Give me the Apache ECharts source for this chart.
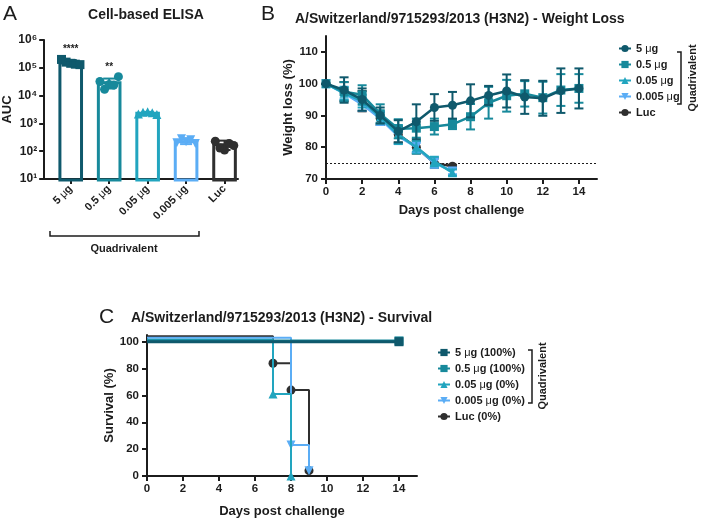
<!DOCTYPE html>
<html><head><meta charset="utf-8">
<script src="https://cdn.jsdelivr.net/npm/echarts@6/dist/echarts.min.js"></script>
<style>html,body{margin:0;padding:0;background:#fff}#c{width:701px;height:519px}</style>
</head><body><div id="c"></div>
<script>
// ---------- shared ----------
const groupNames = ['5 μg', '0.5 μg', '0.05 μg', '0.005 μg', 'Luc'];
const survNames = ['5 μg (100%)', '0.5 μg (100%)', '0.05 μg (0%)', '0.005 μg (0%)', 'Luc (0%)'];
const colors = ['#0f596c', '#17899b', '#22a5bf', '#5badf5', '#2f2f2f'];

// ---------- Panel A: Cell-based ELISA (AUC) ----------
const aucMean = [1.5e5, 2.9e4, 2.3e3, 2.2e2, 1.7e2];
const aucLow  = [1.25e5, 1.8e4, 2.1e3, 1.8e2, 1.1e2];
const aucHigh = [1.9e5, 4.1e4, 2.6e3, 2.9e2, 2.4e2];
const aucPts5    = [2.0e5, 1.6e5, 1.45e5, 1.35e5, 1.3e5];
const aucPts05   = [3.2e4, 1.7e4, 2.5e4, 2.4e4, 4.8e4];
const aucPts005  = [2.2e3, 2.5e3, 2.6e3, 2.4e3, 2.1e3];
const aucPts0005 = [2.0e2, 2.8e2, 2.2e2, 2.6e2, 1.9e2];
const aucPtsLuc  = [2.3e2, 1.3e2, 1.1e2, 1.9e2, 1.6e2];
const aucStars = ['****', '**', '', '', ''];
const aucTickExp = {10: '10¹', 100: '10²', 1000: '10³', 10000: '10⁴', 100000: '10⁵', 1000000: '10⁶'};

// ---------- Panel B: weight loss ----------
const daysLong  = [0, 1, 2, 3, 4, 5, 6, 7, 8, 9, 10, 11, 12, 13, 14];
const daysShort = [0, 1, 2, 3, 4, 5, 6, 7];
const wt5     = [100, 98, 95, 90, 85, 88, 92.5, 93.2, 94.6, 96.3, 97.7, 95.8, 95.4, 97.8, 98.5];
const wt5Sd   = [0, 4, 3.5, 2.5, 3.5, 5.5, 4.2, 4.2, 5.2, 3, 5.2, 5.3, 5.5, 7, 6.3];
const wt05    = [100, 97.5, 96.5, 90.5, 85.8, 86, 86.5, 87.2, 89.6, 94, 96.2, 96.8, 95.6, 98, 98.5];
const wt05Sd  = [0, 3, 3, 3, 3, 3, 2.5, 1.5, 4, 5, 5, 4, 5, 5, 4.5];
const wt005   = [100, 97, 94.5, 89.5, 84, 80, 75.5, 72];
const wt005Sd = [0, 2, 2, 2, 3, 2, 1.5, 1];
const wt0005  = [100, 97, 93.5, 89, 83.5, 80, 75, 72.5];
const wt0005Sd= [0, 2, 2, 2, 2.5, 1.5, 1.5, 1];
const wtLuc   = [100, 97.5, 94.5, 89, 84, 80, 75, 74];
const wtLucSd = [0, 3, 3.2, 2, 2.5, 2, 1.5, 0.5];
const wtThreshold = 75;
const bYTicks = [70, 80, 90, 100, 110];
const bXTicks = [0, 2, 4, 6, 8, 10, 12, 14];

// ---------- Panel C: survival ----------
const survDays5 = [0, 14],          surv5 = [100, 100];
const survDays05 = [0, 14],         surv05 = [100.6, 100.6];
const survDays005 = [0, 7, 8],      surv005 = [101.5, 61, 0];
const survDays0005 = [0, 8, 9],     surv0005 = [103, 23, 4];
const survDaysLuc = [0, 7, 8, 9],   survLuc = [104, 84, 64, 4];
const cYTicks = [0, 20, 40, 60, 80, 100];
const cXTicks = [0, 2, 4, 6, 8, 10, 12, 14];

// ---------- build ----------
const FONT = '"Liberation Sans", Arial, Helvetica, sans-serif';
const INK = '#1c1c1c';
const muRich = {m: {fontWeight: 'normal', color: INK, fontFamily: FONT}};
const muFmt = s => s.replace('μ', '{m|μ}');
const axisBase = () => ({
  axisLine: {show: true, onZero: false, lineStyle: {color: INK, width: 2}},
  axisTick: {show: true, length: 5, lineStyle: {color: INK, width: 2}},
  axisLabel: {color: INK, fontWeight: 'bold', fontSize: 11.5, fontFamily: FONT},
  splitLine: {show: false},
  nameTextStyle: {color: INK, fontWeight: 'bold', fontSize: 13, fontFamily: FONT}
});
function merge(a, b) {
  for (const k in b) {
    if (b[k] && typeof b[k] === 'object' && !Array.isArray(b[k]) && a[k] && typeof a[k] === 'object') merge(a[k], b[k]);
    else a[k] = b[k];
  }
  return a;
}

const aucPts = [aucPts5, aucPts05, aucPts005, aucPts0005, aucPtsLuc];
const aSymbols = ['rect', 'circle', 'triangle', 'triangle', 'circle'];
const aRot = [0, 0, 0, 180, 0];
const jitter = [-0.24, -0.12, 0, 0.12, 0.24];
const halfBar = 0.32;

const series = [];
series.push({
  type: 'custom', name: 'A bars', xAxisIndex: 0, yAxisIndex: 0, silent: true, z: 2,
  data: aucMean.map((v, i) => [i, v]),
  renderItem: (params, api) => {
    const i = api.value(0), v = api.value(1);
    const p1 = api.coord([i - halfBar, v]);
    const p2 = api.coord([i + halfBar, 10]);
    return {type: 'rect', shape: {x: p1[0] + 1.5, y: p1[1], width: p2[0] - p1[0] - 3, height: p2[1] - p1[1] + 1},
      style: {fill: 'none', stroke: colors[i], lineWidth: 3}};
  }
});
aucPts.forEach((pts, i) => {
  series.push({
    type: 'scatter', name: 'A pts ' + i, xAxisIndex: 0, yAxisIndex: 0, z: 3,
    symbol: aSymbols[i], symbolRotate: aRot[i], symbolSize: 9,
    itemStyle: {color: colors[i], opacity: 1},
    data: pts.map((v, k) => [i + jitter[k], v])
  });
});
series.push({
  type: 'custom', name: 'A err', xAxisIndex: 0, yAxisIndex: 0, silent: true, z: 4,
  data: aucMean.map((v, i) => [i, aucLow[i], aucHigh[i], v]),
  renderItem: (params, api) => {
    const i = api.value(0);
    const lo = api.coord([i, api.value(1)]), hi = api.coord([i, api.value(2)]);
    const w = 6, st = {stroke: colors[i], lineWidth: 2};
    const children = [
      {type: 'line', shape: {x1: lo[0], y1: lo[1], x2: hi[0], y2: hi[1]}, style: st},
      {type: 'line', shape: {x1: lo[0] - w, y1: lo[1], x2: lo[0] + w, y2: lo[1]}, style: st},
      {type: 'line', shape: {x1: hi[0] - w, y1: hi[1], x2: hi[0] + w, y2: hi[1]}, style: st}
    ];
    if (aucStars[i]) {
      children.push({type: 'text', style: {text: aucStars[i], x: hi[0], y: hi[1] - 11, align: 'center', verticalAlign: 'middle',
        fill: INK, font: 'bold 10px ' + FONT}});
    }
    return {type: 'group', children};
  }
});

// Panel B
const bMeans = [wt5, wt05, wt005, wt0005, wtLuc];
const bSds = [wt5Sd, wt05Sd, wt005Sd, wt0005Sd, wtLucSd];
const bDays = [daysLong, daysLong, daysShort, daysShort, daysShort];
const bSym = ['circle', 'rect', 'triangle', 'triangle', 'circle'];
const bRot = [0, 0, 0, 180, 0];
const bZ = [14, 13, 12, 11, 10];
const bOrder = [4, 3, 2, 1, 0];
bOrder.forEach(i => {
  series.push({
    type: 'custom', name: 'B err ' + i, xAxisIndex: 1, yAxisIndex: 1, silent: true, z: bZ[i],
    data: bDays[i].map((d, k) => [d, bMeans[i][k], bSds[i][k]]),
    renderItem: (params, api) => {
      const d = api.value(0), m = api.value(1), s = api.value(2);
      if (!s) return null;
      const lo = api.coord([d, m - s]), hi = api.coord([d, m + s]);
      const w = 4.5, st = {stroke: colors[i], lineWidth: 2};
      return {type: 'group', children: [
        {type: 'line', shape: {x1: lo[0], y1: lo[1], x2: hi[0], y2: hi[1]}, style: st},
        {type: 'line', shape: {x1: lo[0] - w, y1: lo[1], x2: lo[0] + w, y2: lo[1]}, style: st},
        {type: 'line', shape: {x1: hi[0] - w, y1: hi[1], x2: hi[0] + w, y2: hi[1]}, style: st}
      ]};
    }
  });
  const s = {
    type: 'line', name: groupNames[i], xAxisIndex: 1, yAxisIndex: 1, z: bZ[i],
    symbol: bSym[i], symbolRotate: bRot[i], symbolSize: 9, showSymbol: true,
    lineStyle: {color: colors[i], width: 2.5}, itemStyle: {color: colors[i]},
    data: bDays[i].map((d, k) => [d, bMeans[i][k]]), animation: false
  };
  if (i === 4) {
    s.markLine = {silent: true, symbol: 'none', label: {show: false},
      lineStyle: {type: [2, 2], color: INK, width: 1}, data: [{yAxis: wtThreshold}]};
  }
  series.push(s);
});

// Panel C
const cDays = [survDays5, survDays05, survDays005, survDays0005, survDaysLuc];
const cVals = [surv5, surv05, surv005, surv0005, survLuc];
const cSym = ['rect', 'rect', 'triangle', 'triangle', 'circle'];
const cZ = [14, 13, 12, 11, 10];
bOrder.forEach(i => {
  series.push({
    type: 'line', name: survNames[i], xAxisIndex: 2, yAxisIndex: 2, z: cZ[i], step: 'end',
    symbol: cSym[i], symbolRotate: bRot[i], symbolSize: 9,
    lineStyle: {color: colors[i], width: i < 2 ? 3 : 2}, itemStyle: {color: colors[i]},
    data: cDays[i].map((d, k) => k === 0 ? {value: [d, cVals[i][k]], symbol: 'none'} : [d, cVals[i][k]]),
    animation: false
  });
});

const legendText = {color: INK, fontWeight: 'bold', fontSize: 11, fontFamily: FONT, rich: muRich};
const option = {
  animation: false,
  grid: [
    {left: 41, top: 40, width: 197, height: 139},
    {left: 326, top: 36, width: 271, height: 143},
    {left: 147, top: 335, width: 270, height: 144}
  ],
  xAxis: [
    merge(axisBase(), {type: 'value', gridIndex: 0, min: -0.69, max: 4.35,
      axisTick: {customValues: [0, 1, 2, 3, 4]},
      axisLabel: {customValues: [0, 1, 2, 3, 4], rotate: 45, fontSize: 11, margin: 8, rich: {m: {fontWeight: 'normal', fontSize: 11, color: INK, fontFamily: FONT}},
        formatter: v => muFmt(groupNames[Math.round(v)])}}),
    merge(axisBase(), {type: 'value', gridIndex: 1, min: 0, max: 15,
      axisTick: {customValues: bXTicks}, axisLabel: {customValues: bXTicks, margin: 7},
      name: 'Days post challenge', nameLocation: 'middle', nameGap: 25}),
    merge(axisBase(), {type: 'value', gridIndex: 2, min: 0, max: 15,
      axisTick: {customValues: cXTicks}, axisLabel: {customValues: cXTicks, margin: 7},
      name: 'Days post challenge', nameLocation: 'middle', nameGap: 29})
  ],
  yAxis: [
    merge(axisBase(), {type: 'log', logBase: 10, gridIndex: 0, min: 10, max: 1e6,
      axisLabel: {margin: 7, fontSize: 12, formatter: v => aucTickExp[Math.round(v)] || ''},
      name: 'AUC', nameLocation: 'middle', nameGap: 24}),
    merge(axisBase(), {type: 'value', gridIndex: 1, min: 70, max: 115,
      axisTick: {customValues: bYTicks}, axisLabel: {customValues: bYTicks},
      name: 'Weight loss (%)', nameLocation: 'middle', nameGap: 22}),
    merge(axisBase(), {type: 'value', gridIndex: 2, min: 0, max: 105,
      axisTick: {customValues: cYTicks}, axisLabel: {customValues: cYTicks},
      name: 'Survival (%)', nameLocation: 'middle', nameGap: 21})
  ],
  legend: [
    {data: groupNames, orient: 'vertical', left: 613, top: 38, itemGap: 5, itemWidth: 12, itemHeight: 9,
      selectedMode: false, textStyle: legendText, formatter: muFmt},
    {data: survNames, orient: 'vertical', left: 432, top: 342, itemGap: 5, itemWidth: 12, itemHeight: 9,
      selectedMode: false, textStyle: legendText, formatter: muFmt}
  ],
  graphic: [
    {type: 'text', left: 3, top: 4, style: {text: 'A', font: '21px ' + FONT, fill: INK}},
    {type: 'text', x: 146, y: 15, style: {text: 'Cell-based ELISA', font: 'bold 14px ' + FONT, fill: INK, align: 'center', verticalAlign: 'middle'}},
    {type: 'polyline', shape: {points: [[50, 231], [50, 236], [199, 236], [199, 231]]}, style: {stroke: INK, lineWidth: 1.5, fill: 'none'}},
    {type: 'text', x: 124, y: 249, style: {text: 'Quadrivalent', font: 'bold 11px ' + FONT, fill: INK, align: 'center', verticalAlign: 'middle'}},
    {type: 'text', left: 261, top: 4, style: {text: 'B', font: '21px ' + FONT, fill: INK}},
    {type: 'text', x: 295, y: 19, style: {text: 'A/Switzerland/9715293/2013 (H3N2) - Weight Loss', font: 'bold 14px ' + FONT, fill: INK, verticalAlign: 'middle'}},
    {type: 'polyline', shape: {points: [[677, 52], [681, 52], [681, 104], [677, 104]]}, style: {stroke: INK, lineWidth: 1.5, fill: 'none'}},
    {type: 'text', x: 693, y: 78, rotation: Math.PI / 2, style: {text: 'Quadrivalent', font: 'bold 11px ' + FONT, fill: INK, align: 'center', verticalAlign: 'middle'}},
    {type: 'text', left: 99, top: 307, style: {text: 'C', font: '21px ' + FONT, fill: INK}},
    {type: 'text', x: 131, y: 318, style: {text: 'A/Switzerland/9715293/2013 (H3N2) - Survival', font: 'bold 14px ' + FONT, fill: INK, verticalAlign: 'middle'}},
    {type: 'polyline', shape: {points: [[528, 350], [532, 350], [532, 403], [528, 403]]}, style: {stroke: INK, lineWidth: 1.5, fill: 'none'}},
    {type: 'text', x: 543, y: 376, rotation: Math.PI / 2, style: {text: 'Quadrivalent', font: 'bold 11px ' + FONT, fill: INK, align: 'center', verticalAlign: 'middle'}}
  ],
  series
};
const chart = echarts.init(document.getElementById('c'), null, {renderer: 'canvas'});
chart.setOption(option);
</script></body></html>
